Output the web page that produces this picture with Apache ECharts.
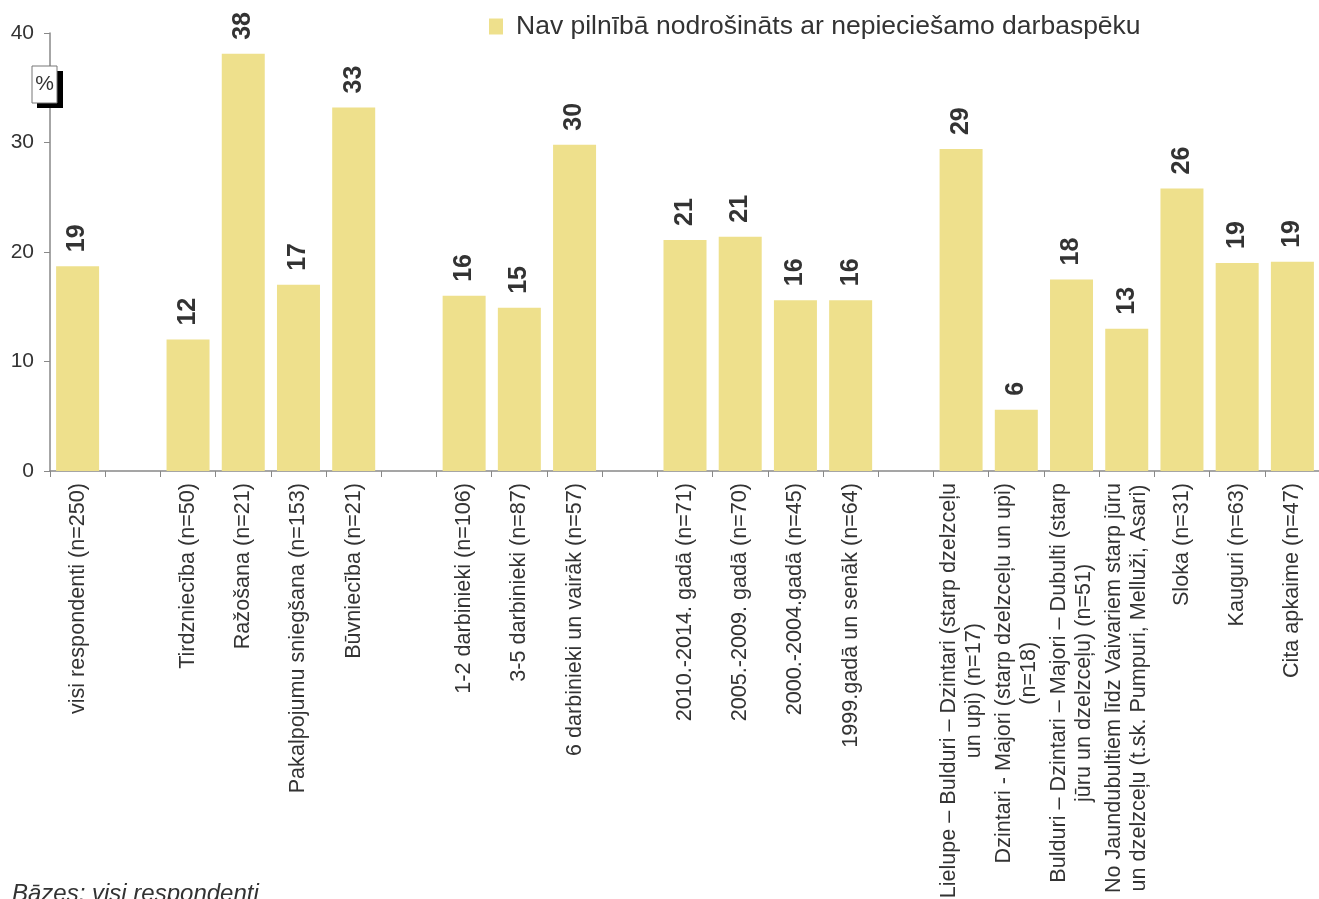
<!DOCTYPE html>
<html>
<head>
<meta charset="utf-8">
<script src="https://cdn.jsdelivr.net/npm/echarts@6/dist/echarts.min.js"></script>
<style>
html,body{margin:0;padding:0;background:#fff;}
#chart{width:1319px;height:899px;}
</style>
</head>
<body>
<div id="chart"></div>
<script>
const categories = [
  "visi respondenti (n=250)",
  " ",
  "Tirdzniecība (n=50)",
  "Ražošana (n=21)",
  "Pakalpojumu sniegšana (n=153)",
  "Būvniecība (n=21)",
  "  ",
  "1-2 darbinieki (n=106)",
  "3-5 darbinieki (n=87)",
  "6 darbinieki un vairāk (n=57)",
  "   ",
  "2010.-2014. gadā (n=71)",
  "2005.-2009. gadā (n=70)",
  "2000.-2004.gadā (n=45)",
  "1999.gadā un senāk (n=64)",
  "    ",
  "Lielupe – Bulduri – Dzintari (starp dzelzceļu\nun upi) (n=17)",
  "Dzintari - Majori (starp dzelzceļu un upi)\n(n=18)",
  "Bulduri – Dzintari – Majori – Dubulti (starp\njūru un dzelzceļu) (n=51)",
  "No Jaundubultiem līdz Vaivariem starp jūru\nun dzelzceļu (t.sk. Pumpuri, Melluži, Asari)",
  "Sloka (n=31)",
  "Kauguri (n=63)",
  "Cita apkaime (n=47)"
];
const values = [18.7, null, 12.0, 38.1, 17.0, 33.2, null, 16.0, 14.9, 29.8, null, 21.1, 21.4, 15.6, 15.6, null, 29.4, 5.6, 17.5, 13.0, 25.8, 19.0, 19.1];
const labelValues = [19, null, 12, 38, 17, 33, null, 16, 15, 30, null, 21, 21, 16, 16, null, 29, 6, 18, 13, 26, 19, 19];
const seriesName = "Nav pilnībā nodrošināts ar nepieciešamo darbaspēku";
const yTicks = [0, 10, 20, 30, 40];
const footnote = "Bāzes: visi respondenti";

const FONT = "'Liberation Sans', Arial, sans-serif";
const chart = echarts.init(document.getElementById('chart'));
chart.setOption({
  animation: false,
  textStyle: { fontFamily: FONT },
  grid: { left: 50, top: 33, width: 1270, height: 438, containLabel: false, outerBoundsMode: 'none' },
  legend: {
    data: [seriesName],
    left: 484, top: 8,
    itemWidth: 14, itemHeight: 16,
    icon: 'rect',
    textStyle: { fontSize: 26.5, color: '#333', fontFamily: FONT, padding: [0, 0, 0, 8] }
  },
  xAxis: {
    type: 'category',
    data: categories,
    boundaryGap: true,
    axisLine: { lineStyle: { color: '#888', width: 1.5 } },
    axisTick: { show: true, length: 6, alignWithLabel: false, interval: 0, lineStyle: { color: '#888' } },
    axisLabel: {
      interval: 0, rotate: 90, margin: 12,
      fontSize: 21.6, color: '#333', fontFamily: FONT,
      formatter: function (v) {
        return v.split('\n').map(function (s) { return '{c|' + s + '}'; }).join('\n');
      },
      rich: { c: { align: 'center', fontSize: 21.6, lineHeight: 25, color: '#333', fontFamily: FONT } }
    },
    splitLine: { show: false }
  },
  yAxis: {
    type: 'value',
    min: yTicks[0], max: yTicks[yTicks.length - 1], interval: 10,
    axisLine: { show: true, lineStyle: { color: '#888', width: 1.5 } },
    axisTick: { show: true, length: 6, lineStyle: { color: '#888' } },
    axisLabel: { fontSize: 21, color: '#333', margin: 16, fontFamily: FONT },
    splitLine: { show: false }
  },
  series: [{
    name: seriesName,
    type: 'bar',
    data: values,
    barWidth: 43,
    itemStyle: { color: '#EEE08C' },
    label: {
      show: true, position: 'top', rotate: 90, align: 'left', verticalAlign: 'middle',
      distance: 14,
      fontSize: 25, fontWeight: 'bold', color: '#333', fontFamily: FONT,
      formatter: function (p) { return labelValues[p.dataIndex] == null ? '' : String(labelValues[p.dataIndex]); }
    }
  }],
  graphic: [
    { type: 'rect', shape: { x: 37, y: 71, width: 26, height: 37 }, style: { fill: '#000' }, z: 100 },
    { type: 'rect', shape: { x: 32, y: 66, width: 25, height: 37 }, style: { fill: '#fff', stroke: '#777', lineWidth: 1 }, z: 101 },
    { type: 'text', x: 44.5, y: 84, style: { text: '%', fontSize: 21, fill: '#333', align: 'center', verticalAlign: 'middle', fontFamily: FONT }, z: 102 },
    { type: 'text', left: 12, top: 882, style: { text: footnote, fontSize: 24, fontStyle: 'italic', fill: '#333', fontFamily: FONT } }
  ]
});
</script>
</body>
</html>
